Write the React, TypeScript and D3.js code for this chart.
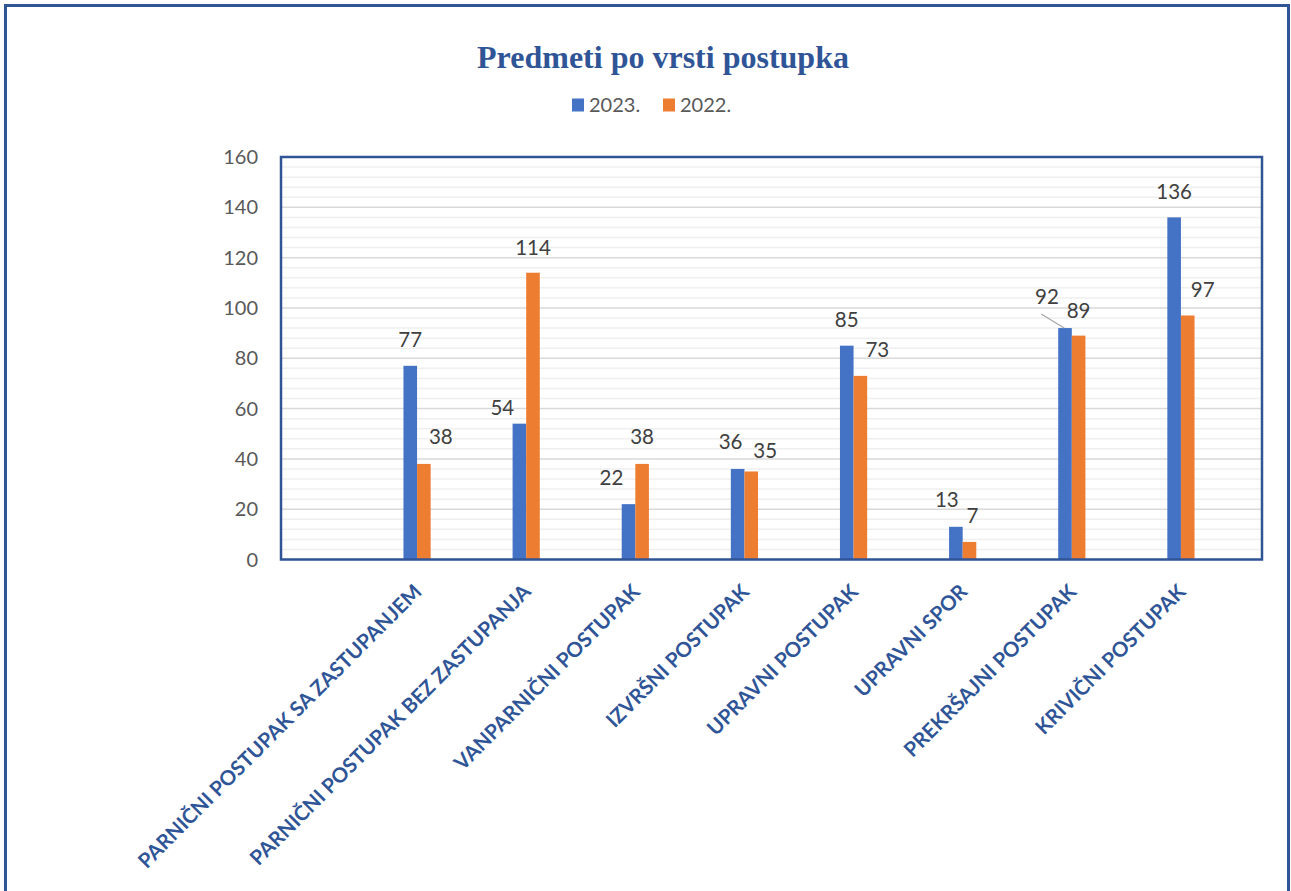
import { useEffect, useRef } from 'react';
import * as d3 from 'd3';

const categories = [
  'PARNIČNI POSTUPAK SA ZASTUPANJEM',
  'PARNIČNI POSTUPAK BEZ ZASTUPANJA',
  'VANPARNIČNI POSTUPAK',
  'IZVRŠNI POSTUPAK',
  'UPRAVNI POSTUPAK',
  'UPRAVNI SPOR',
  'PREKRŠAJNI POSTUPAK',
  'KRIVIČNI POSTUPAK',
];
const seriesNames = ['2023.', '2022.'];
const values2023 = [77, 54, 22, 36, 85, 13, 92, 136];
const values2022 = [38, 114, 38, 35, 73, 7, 89, 97];
const yTicks = [0, 20, 40, 60, 80, 100, 120, 140, 160];

// hand placed data label nudges (Excel moved some labels to avoid overlaps)
const nudge2023: [number, number][] = [[0, 0], [-17, 10], [-17, 0], [-7, -1], [0, 0], [-9, -1], [-18, -5], [0, 1]];
const nudge2022: [number, number][] = [[17, -1], [0, 1], [0, -1], [14, 6], [17, 0], [3, 0], [0, 1], [15, 1]];

const colors = ['#4472C4', '#ED7D31'];
const frameBlue = '#2F5597';
const W = 1291;
const H = 891;

export default function App() {
  const svgRef = useRef<SVGSVGElement>(null);

  useEffect(() => {
    if (!svgRef.current) return;
    const svg = d3.select(svgRef.current);
    svg.selectAll('*').remove();

    const plot = { left: 281, right: 1262, top: 157, bottom: 559.5 };

    // outer frame (bottom edge runs off the page)
    svg.append('path')
      .attr('d', `M5.5,${H + 10} V5.5 H${W - 2.5} V${H + 10}`)
      .attr('fill', 'none')
      .attr('stroke', frameBlue)
      .attr('stroke-width', 3);

    // title
    svg.append('text')
      .attr('x', 663)
      .attr('y', 68)
      .attr('text-anchor', 'middle')
      .attr('font-family', '"Liberation Serif", "Times New Roman", serif')
      .attr('font-weight', 'bold')
      .attr('font-size', 32)
      .attr('fill', frameBlue)
      .text('Predmeti po vrsti postupka');

    // legend
    const legendX = [572, 663];
    seriesNames.forEach((name, i) => {
      svg.append('rect')
        .attr('x', legendX[i])
        .attr('y', 98.5)
        .attr('width', 12)
        .attr('height', 13)
        .attr('fill', colors[i]);
      svg.append('text')
        .attr('x', legendX[i] + 17)
        .attr('y', 111.5)
        .attr('font-family', 'Lato, sans-serif')
        .attr('font-size', 20)
        .attr('fill', '#595959')
        .text(name);
    });

    const yScale = d3.scaleLinear().domain([0, 160]).range([plot.bottom, plot.top]);
    const xScale = d3
      .scaleBand()
      .domain(categories)
      .range([plot.left + 81.5, plot.right - 26.5]);
    const xInner = d3.scaleBand().domain(seriesNames).range([-13.6, 13.6]);

    // minor + major grid
    const minor = d3.range(0, 161, 4).filter((v) => v % 20 !== 0);
    svg.append('g')
      .selectAll('line')
      .data(minor)
      .join('line')
      .attr('x1', plot.left)
      .attr('x2', plot.right)
      .attr('y1', (d) => yScale(d))
      .attr('y2', (d) => yScale(d))
      .attr('stroke', '#efefef')
      .attr('stroke-width', 1.5);
    svg.append('g')
      .selectAll('line')
      .data(yTicks)
      .join('line')
      .attr('x1', plot.left)
      .attr('x2', plot.right)
      .attr('y1', (d) => yScale(d))
      .attr('y2', (d) => yScale(d))
      .attr('stroke', '#d9d9d9')
      .attr('stroke-width', 1.5);

    // y tick labels
    svg.append('g')
      .selectAll('text')
      .data(yTicks)
      .join('text')
      .attr('x', 258)
      .attr('y', (d) => yScale(d) + 7)
      .attr('text-anchor', 'end')
      .attr('font-family', 'Lato, sans-serif')
      .attr('font-size', 20)
      .attr('fill', '#595959')
      .text((d) => d);

    // bars
    const series = [values2023, values2022];
    const nudges = [nudge2023, nudge2022];
    series.forEach((vals, s) => {
      const g = svg.append('g');
      g.selectAll('rect')
        .data(vals)
        .join('rect')
        .attr('x', (_, i) => xScale(categories[i])! + xScale.bandwidth() / 2 + xInner(seriesNames[s])!)
        .attr('y', (d) => yScale(d))
        .attr('width', xInner.bandwidth())
        .attr('height', (d) => plot.bottom - yScale(d))
        .attr('fill', colors[s]);

      g.selectAll('text')
        .data(vals)
        .join('text')
        .attr('x', (_, i) => xScale(categories[i])! + xScale.bandwidth() / 2 + xInner(seriesNames[s])! + xInner.bandwidth() / 2 + nudges[s][i][0])
        .attr('y', (d, i) => yScale(d) - 19 + nudges[s][i][1])
        .attr('text-anchor', 'middle')
        .attr('font-family', 'Lato, sans-serif')
        .attr('font-size', 20.5)
        .attr('fill', '#404040')
        .text((d) => d);
    });

    // leader line for the 92 label
    const k = 6;
    const bx = xScale(categories[k])! + xScale.bandwidth() / 2 + xInner(seriesNames[0])!;
    svg.append('line')
      .attr('x1', bx - 17)
      .attr('y1', yScale(values2023[k]) - 14)
      .attr('x2', bx + 6)
      .attr('y2', yScale(values2023[k]))
      .attr('stroke', '#a6a6a6')
      .attr('stroke-width', 1.2);

    // plot area border
    svg.append('rect')
      .attr('x', plot.left)
      .attr('y', plot.top)
      .attr('width', plot.right - plot.left)
      .attr('height', plot.bottom - plot.top)
      .attr('fill', 'none')
      .attr('stroke', frameBlue)
      .attr('stroke-width', 2.5);

    // rotated category labels
    svg.append('g')
      .selectAll('text')
      .data(categories)
      .join('text')
      .attr('transform', (d) => `translate(${xScale(d)! + xScale.bandwidth() / 2 + 6},${593}) rotate(-45)`)
      .attr('text-anchor', 'end')
      .attr('font-family', 'Lato, sans-serif')
      .attr('font-weight', 'bold')
      .attr('font-size', 20.5)
      .attr('fill', frameBlue)
      .text((d) => d);
  }, []);

  return (
    <svg
      ref={svgRef}
      width={W}
      height={H}
      style={{ position: 'absolute', left: 0, top: 0, background: '#fff' }}
    />
  );
}
